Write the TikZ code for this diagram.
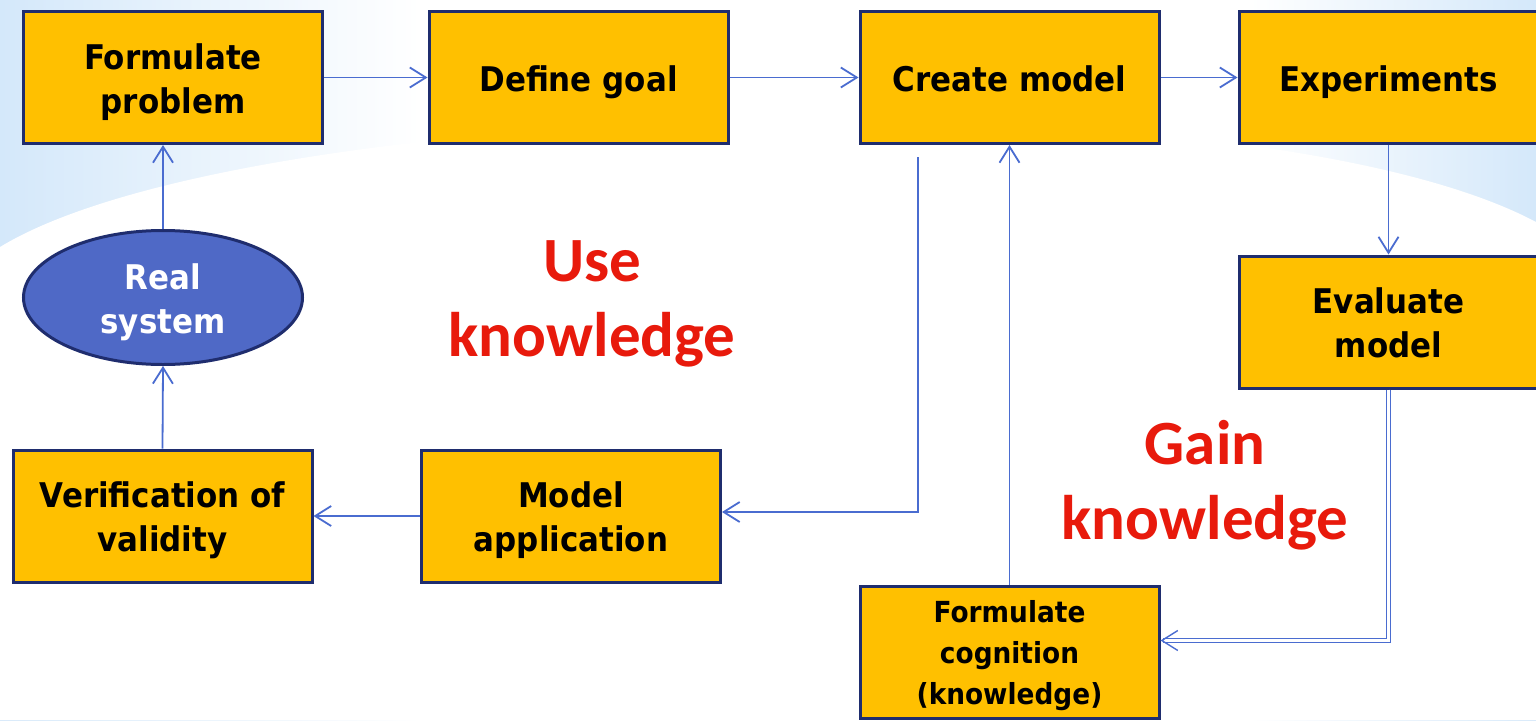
\documentclass[tikz,border=0pt]{standalone}
\usepackage{fontspec}
\setmainfont{DejaVu Sans}[FakeStretch=0.91]
\newfontfamily\redfont{Carlito}
\usetikzlibrary{arrows.meta,shapes.geometric,calc}
\definecolor{boxfill}{RGB}{255,192,0}
\definecolor{boxline}{RGB}{31,45,110}
\definecolor{linec}{RGB}{74,108,208}
\definecolor{ellfill}{RGB}{79,105,198}
\definecolor{redtxt}{RGB}{232,26,12}
\definecolor{bgblue}{RGB}{212,232,250}
\newcommand\topstrut{\rule{0pt}{38pt}}
\newcommand\smalltopstrut{\rule{0pt}{32pt}}
\begin{document}
\begin{tikzpicture}[x=1pt,y=-1pt,
  txt/.style={align=center, inner sep=0pt,
    execute at end node={\rule[-11pt]{0pt}{0pt}}},
  box/.style={txt, draw=boxline, fill=boxfill, line width=3pt, minimum width=299pt, minimum height=132pt,
    font=\fontsize{34}{44}\selectfont\bfseries},
  smallbox/.style={box, font=\fontsize{29}{41}\selectfont\bfseries},
  ell/.style={txt, ellipse, draw=boxline, fill=ellfill, line width=3pt, minimum width=279pt, minimum height=134pt,
    text=white, font=\fontsize{34}{44}\selectfont\bfseries},
  conn/.style={draw=linec, line width=1.8pt, -{Straight Barb[length=16pt,width=20pt,line width=1.8pt]}},
  dconn/.style={draw=linec, line width=1.4pt, double=white, double distance=2.6pt,
    -{Straight Barb[length=16pt,width=20pt]}},
  redlbl/.style={align=center, text=redtxt, inner sep=0pt, font=\redfont\fontsize{63}{75}\selectfont\bfseries}
]
\clip (0,0) rectangle (1536,720);
% background
\fill[white] (0,0) rectangle (1536,720);
\fill[left color=bgblue, right color=white] (0,0) rectangle (420,720);
\fill[left color=white, right color=bgblue] (1250,0) rectangle (1536,720);
\fill[white] (0,247) .. controls (250,95) and (1250,70) .. (1536,222) -- (1536,720) -- (0,720) -- cycle;

% nodes
\node[box] (fp) at (173,77.5) {\topstrut Formulate\\problem};
\node[box] (dg) at (578.5,77.5) {\topstrut Define goal};
\node[box] (cm) at (1009.5,77.5) {\topstrut Create model};
\node[box] (ex) at (1388.5,77.5) {\topstrut Experiments};
\node[box] (ev) at (1388.5,322) {\topstrut Evaluate\\model};
\node[ell] (rs) at (163,297.5) {\topstrut Real\\system};
\node[box] (vv) at (162.5,516) {\topstrut Verification of\\validity};
\node[box] (ma) at (571,516) {\topstrut Model\\application};
\node[smallbox] (fc) at (1009.5,652.5) {\smalltopstrut Formulate\\cognition\\(knowledge)};

\node[redlbl] (use) at (592,304) {Use\\knowledge};
\node[redlbl] (gain) at (1205,485) {Gain\\knowledge};

% connectors
\coordinate (cmtap) at (918,157);
\draw[conn] (fp.east) -- (dg.west);
\draw[conn] (dg.east) -- (cm.west);
\draw[conn] (cm.east) -- (ex.west);
\draw[conn] (ex.south) -- (ev.north);
\draw[conn] (rs.north) -- (rs.north |- fp.south);
\draw[conn] (vv.north) -- (rs.south);
\draw[conn] (ma.west) -- (vv.east);
\draw[conn] (cmtap) |- ($(ma.east)+(0,-4)$);
\draw[conn] (fc.north) -- (cm.south);
\draw[dconn] (ev.south) |- ($(fc.east)+(0,-12)$);
\end{tikzpicture}
\end{document}
